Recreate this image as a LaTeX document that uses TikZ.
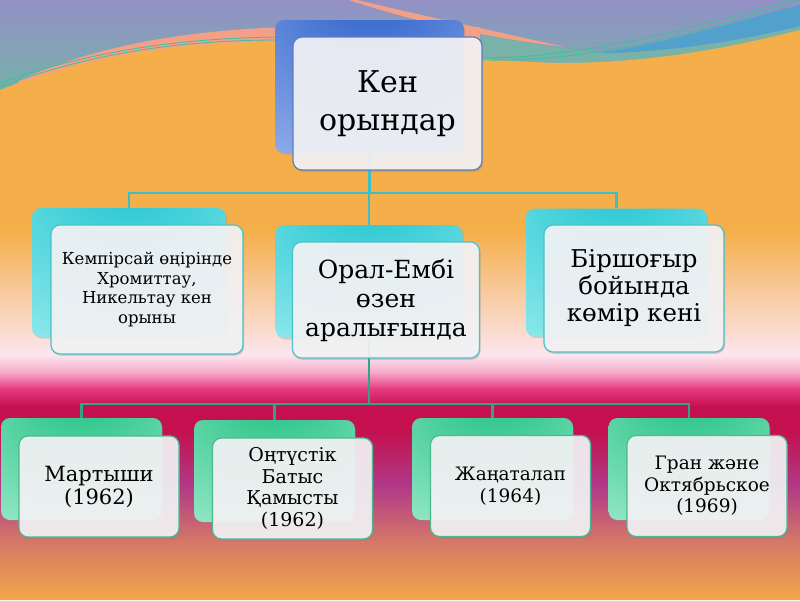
\documentclass[tikz,border=0pt]{standalone}
\usepackage{fontspec}
\setmainfont{DejaVu Serif}
\usetikzlibrary{shadows}

\definecolor{skytop}{HTML}{9490C6}
\definecolor{skylow}{HTML}{70B8A4}
\definecolor{salmon}{HTML}{F4A086}
\definecolor{tealband}{HTML}{78B2A8}
\definecolor{blueband}{HTML}{52A0CC}
\definecolor{thinteal}{HTML}{3DBFA0}
\definecolor{orangebg}{HTML}{F5AF4A}
\definecolor{peach}{HTML}{F8CDA8}
\definecolor{palepink}{HTML}{FCE6EE}
\definecolor{hotpink}{HTML}{E83C84}
\definecolor{crimson}{HTML}{C4104E}
\definecolor{plum}{HTML}{B03888}
\definecolor{coral}{HTML}{D47668}
\definecolor{sunset}{HTML}{F2A848}
\definecolor{cardfill}{HTML}{F5F5F7}
\definecolor{blueedge}{HTML}{5A7DC8}
\definecolor{cyanedge}{HTML}{48C2C8}
\definecolor{greenedge}{HTML}{4DB890}
\definecolor{bluedeep}{HTML}{3F6FD0}
\definecolor{bluepale}{HTML}{A8BEF0}
\definecolor{cyandeep}{HTML}{36CCD6}
\definecolor{cyanpale}{HTML}{A6F0F2}
\definecolor{greendeep}{HTML}{38C890}
\definecolor{greenpale}{HTML}{AEF0D4}
\definecolor{linkteal}{HTML}{3CBFC4}
\definecolor{linkgreen}{HTML}{2FA585}

\pgfdeclareradialshading{blueglow}{\pgfpoint{0bp}{38bp}}{color(0bp)=(bluedeep); color(10bp)=(bluedeep); color(62bp)=(bluepale); color(90bp)=(bluepale)}
\pgfdeclareradialshading{cyanglow}{\pgfpoint{0bp}{38bp}}{color(0bp)=(cyandeep); color(10bp)=(cyandeep); color(62bp)=(cyanpale); color(90bp)=(cyanpale)}
\pgfdeclareradialshading{greenglow}{\pgfpoint{0bp}{38bp}}{color(0bp)=(greendeep); color(10bp)=(greendeep); color(62bp)=(greenpale); color(90bp)=(greenpale)}

\newcommand{\fsz}[2]{\fontsize{#1}{#2}\selectfont}

\begin{document}
\begin{tikzpicture}[
    x=1pt, y=-1pt,
    backbox/.style={rounded corners=9pt, inner sep=0pt,
                    drop shadow={shadow xshift=1pt, shadow yshift=-1.5pt, opacity=0.25}},
    card/.style={draw, line width=1.2pt, rounded corners=9pt, fill=cardfill,
                 fill opacity=0.9, text opacity=1, align=center, inner sep=0pt,
                 drop shadow={shadow xshift=1.2pt, shadow yshift=-1.8pt, opacity=0.3}},
    bluecard/.style={card, draw=blueedge},
    cyancard/.style={card, draw=cyanedge},
    greencard/.style={card, draw=greenedge},
    linkA/.style={draw=linkteal, line width=2.4pt},
    linkB/.style={draw=linkgreen, line width=2.6pt},
  ]
  \useasboundingbox (0,0) rectangle (800,600);
  %% ---- Background ----
  % sky
  \fill[top color=skytop, bottom color=skylow] (0,0) rectangle (800,110);
  % salmon band (left) and thin pink wedge (top)
  \fill[salmon] (20,80) .. controls (90,48) and (180,30) .. (290,27)
    -- (480,27) -- (480,80) -- (0,110) -- cycle;
  \fill[salmon] (357,0) .. controls (420,15) and (480,28) .. (565,47)
    .. controls (480,37) and (410,20) .. (349,0) -- cycle;
  % teal and blue bands (right)
  \fill[tealband] (482,35) .. controls (540,45) and (580,52) .. (610,53)
    .. controls (690,50) and (750,38) .. (800,26) -- (800,80) -- (482,80) -- cycle;
  \fill[blueband] (600,53) .. controls (680,40) and (740,20) .. (800,5)
    -- (800,26) .. controls (750,38) and (690,50) .. (610,53) -- cycle;
  % orange to crimson body
  \begin{scope}
    \clip (0,90) .. controls (90,55) and (180,42) .. (280,42)
      .. controls (380,42) and (440,60) .. (560,63)
      .. controls (660,63) and (740,45) .. (800,30) -- (800,600) -- (0,600) -- cycle;
    \fill[orangebg] (0,0) rectangle (800,230.5);
    \fill[top color=orangebg, bottom color=peach] (0,230) rectangle (800,300.5);
    \fill[top color=peach, bottom color=palepink] (0,300) rectangle (800,355.5);
    \fill[top color=palepink, bottom color=hotpink!35!palepink] (0,355) rectangle (800,372.5);
    \fill[top color=hotpink!35!palepink, bottom color=hotpink] (0,372) rectangle (800,388.5);
    \fill[top color=hotpink, bottom color=crimson] (0,388) rectangle (800,406.5);
    \fill[crimson] (0,406) rectangle (800,430.5);
    \fill[top color=crimson, bottom color=plum] (0,430) rectangle (800,485.5);
    \fill[top color=plum, bottom color=coral] (0,485) rectangle (800,540.5);
    \fill[top color=coral, bottom color=sunset] (0,540) rectangle (800,600);
  \end{scope}
  % thin lines along the wave
  \draw[thinteal, line width=0.8pt] (0,87) .. controls (90,53) and (180,40) .. (280,40);
  \draw[thinteal, line width=0.8pt] (0,83) .. controls (90,51) and (180,38) .. (280,37);
  \draw[thinteal, line width=0.8pt] (482,60) .. controls (580,62) and (680,40) .. (800,0);
  \draw[thinteal, line width=0.8pt] (482,58) .. controls (580,58) and (690,30) .. (790,0);
  %% ---- Back boxes ----
  \node[backbox, shading=blueglow, minimum width=189pt, minimum height=133pt] (kenb) at (369.5,86.5) {};
  \node[backbox, shading=cyanglow, minimum width=194pt, minimum height=129pt] (kempb) at (129,272.5) {};
  \node[backbox, shading=cyanglow, minimum width=187pt, minimum height=113pt] (oralb) at (369,281.5) {};
  \node[backbox, shading=cyanglow, minimum width=181pt, minimum height=128pt] (birb) at (616.5,272.5) {};
  \node[backbox, shading=greenglow, minimum width=161pt, minimum height=102pt] (martb) at (81.5,469) {};
  \node[backbox, shading=greenglow, minimum width=161pt, minimum height=102pt] (ontb) at (274.5,471) {};
  \node[backbox, shading=greenglow, minimum width=161pt, minimum height=102pt] (zhanb) at (492.5,469) {};
  \node[backbox, shading=greenglow, minimum width=161pt, minimum height=102pt] (granb) at (689,469) {};
  %% ---- Connectors ----
  \coordinate (j1) at (369.5,193);
  \coordinate (j2) at (369,404);
  \draw[linkA] (kenb.south) -- (j1);
  \draw[linkA] (j1) -| (kempb.north);
  \draw[linkA] (j1) -| (oralb.north);
  \draw[linkA] (j1) -| (birb.north);
  \draw[linkB] (oralb.south) -- (j2);
  \draw[linkB] (j2) -| (martb.north);
  \draw[linkB] (j2) -| (ontb.north);
  \draw[linkB] (j2) -| (zhanb.north);
  \draw[linkB] (j2) -| (granb.north);
  %% ---- Front cards ----
  \node[bluecard, minimum width=189pt, minimum height=133pt, font=\fsz{30}{38}] (ken) at (387.5,103.5) {Кен\\орындар};
  \node[cyancard, minimum width=192pt, minimum height=129pt, font=\fsz{16.5}{19.5}] (kemp) at (147,289.5)
    {Кемпірсай өңірінде\\Хромиттау,\\Никельтау кен\\орыны};
  \node[cyancard, minimum width=187pt, minimum height=116pt, font=\fsz{25}{29}] (oral) at (386,300)
    {Орал-Ембі\\өзен\\аралығында};
  \node[cyancard, minimum width=180pt, minimum height=127pt, font=\fsz{24.5}{27}] (bir) at (634,288.5)
    {Біршоғыр\\бойында\\көмір кені};
  \node[greencard, minimum width=160pt, minimum height=101pt, font=\fsz{21}{23}] (mart) at (99,486.5)
    {Мартыши\\(1962)};
  \node[greencard, minimum width=160pt, minimum height=101pt, font=\fsz{19}{21.5}] (ont) at (292.5,488.5)
    {Оңтүстік\\Батыс\\Қамысты\\(1962)};
  \node[greencard, minimum width=160pt, minimum height=101pt, font=\fsz{18.5}{22}] (zhan) at (510.5,486)
    {Жаңаталап\\(1964)};
  \node[greencard, minimum width=160pt, minimum height=101pt, font=\fsz{18.5}{21.5}] (gran) at (707,486)
    {Гран және\\Октябрьское\\(1969)};
\end{tikzpicture}
\end{document}
